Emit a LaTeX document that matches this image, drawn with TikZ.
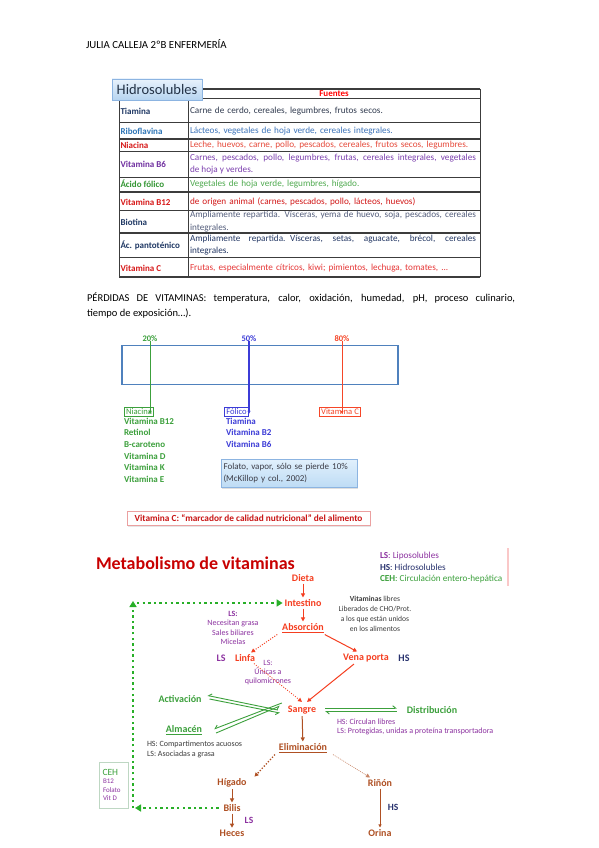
\documentclass[tikz,border=0pt]{standalone}
\usepackage{fontspec}
\setmainfont{Carlito}
\usetikzlibrary{arrows.meta,shadows}
\definecolor{tnavy}{RGB}{31,56,100}
\definecolor{tblue}{RGB}{46,117,182}
\definecolor{tred}{RGB}{215,25,25}
\definecolor{tpurple}{RGB}{112,48,160}
\definecolor{tgreen}{RGB}{51,150,51}
\definecolor{s1}{RGB}{50,60,80}
\definecolor{s2}{RGB}{60,115,185}
\definecolor{s3}{RGB}{230,75,60}
\definecolor{s4}{RGB}{125,65,175}
\definecolor{s5}{RGB}{80,170,80}
\definecolor{s6}{RGB}{210,25,25}
\definecolor{s7}{RGB}{85,95,125}
\definecolor{s8}{RGB}{35,55,100}
\definecolor{s9}{RGB}{230,55,55}
\definecolor{tline}{RGB}{60,60,60}
\definecolor{tabtop}{RGB}{232,242,252}
\definecolor{tabbot}{RGB}{182,212,240}
\definecolor{tabborder}{RGB}{140,180,225}
\definecolor{tabtext}{RGB}{35,50,70}
\definecolor{boxblue}{RGB}{79,129,189}
\definecolor{pgreen}{RGB}{60,160,60}
\definecolor{pblue}{RGB}{60,60,215}
\definecolor{pred}{RGB}{245,70,40}
\definecolor{notetop}{RGB}{225,240,252}
\definecolor{notebot}{RGB}{190,220,245}
\definecolor{notetext}{RGB}{60,60,70}
\definecolor{pinkborder}{RGB}{235,160,160}
\definecolor{darkred}{RGB}{200,20,20}
\definecolor{morange}{RGB}{245,62,32}
\definecolor{mbrown}{RGB}{175,80,35}
\definecolor{mgreen}{RGB}{60,160,60}
\definecolor{dgreen}{RGB}{40,175,40}
\definecolor{mpurple}{RGB}{140,50,160}
\definecolor{mnavy}{RGB}{40,50,110}
\definecolor{titlered}{RGB}{200,0,0}
\definecolor{mgray}{RGB}{60,60,60}
\definecolor{ceh}{RGB}{190,215,195}
\definecolor{pinkbar}{RGB}{250,200,200}
\tikzset{
  every node/.style={inner sep=0pt,outer sep=0pt},
  vl/.style={font=\fontsize{9}{10}\selectfont\bfseries,anchor=west},
  vs/.style={font=\fontsize{9.2}{12.5}\selectfont,anchor=west,text width=286pt,align=left},
  tl/.style={draw=tline,line width=0.8pt},
  pct/.style={font=\fontsize{8.5}{9}\selectfont\bfseries},
  vbox/.style={draw,line width=1pt,inner xsep=2pt,inner ysep=1.2pt,font=\fontsize{8.6}{9.5}\selectfont},
  vlist/.style={font=\fontsize{9}{11.6}\selectfont\bfseries,anchor=north west,align=left},
  tip/.style={-{Triangle[length=3pt,width=3pt]}},
  mo/.style={font=\fontsize{10}{11}\selectfont\bfseries,text=morange,outer sep=2pt},
  mg/.style={font=\fontsize{10}{11}\selectfont\bfseries,text=mgreen,outer sep=2pt},
  mb/.style={font=\fontsize{10}{11}\selectfont\bfseries,text=mbrown,outer sep=2pt},
  small/.style={font=\fontsize{8}{9.4}\selectfont,align=center},
  oarrow/.style={draw=morange,line width=1pt,-{Triangle[length=4pt,width=4pt]}},
  odot/.style={draw=morange,line width=1pt,dash pattern=on 1pt off 1.5pt,-{Triangle[length=4pt,width=4pt]}},
  barrow/.style={draw=mbrown,line width=1pt,-{Triangle[length=4pt,width=4pt]}},
  bdot/.style={draw=mbrown,line width=1.3pt,dash pattern=on 1.3pt off 1.7pt,-{Triangle[length=4pt,width=4pt]}},
  bthin/.style={draw=mbrown!70,line width=0.6pt,dash pattern=on 1pt off 1pt,-{Triangle[length=4pt,width=4pt]}},
  garrow/.style={draw=mgreen,line width=0.9pt,-{Straight Barb[length=3pt,width=5pt,harpoon,swap]}},
  garrows/.style={draw=mgreen,line width=0.9pt,-{Straight Barb[length=3pt,width=5pt,harpoon]}},
  gdot/.style={draw=dgreen,line width=2.4pt,dash pattern=on 2.4pt off 3.2pt},
  gtip/.style={-{Triangle[length=6pt,width=7pt]}},
}
\begin{document}
\begin{tikzpicture}[x=1pt,y=-1pt]
\useasboundingbox (0,0) rectangle (599,848);
\fill[white] (0,0) rectangle (599,848);

% header
\node[anchor=west,font=\fontsize{10.8}{12}\selectfont,text=black] (hdr) at (86,44) {JULIA CALLEJA 2ºB ENFERMERÍA};

% ===== table =====
\draw[tl] (119,98) -- (119,277);
\draw[tl] (188,89) -- (188,277);
\draw[tl] (480,89) -- (480,277);
\draw[tl,line width=1.2pt] (200,89) -- (480,89);
\draw[tl] (119,98) -- (480,98);
\draw[tl] (119,122) -- (480,122);
\draw[tl,line width=1.1pt] (119,139) -- (480,139);
\draw[tl] (119,151) -- (480,151);
\draw[tl] (119,177) -- (480,177);
\draw[tl,line width=1.1pt] (119,192) -- (480,192);
\draw[tl] (119,210) -- (480,210);
\draw[tl,line width=1.1pt] (119,233) -- (480,233);
\draw[tl] (119,257) -- (480,257);
\draw[tl,line width=1.2pt] (119,277) -- (480,277);
\node[font=\fontsize{9}{10}\selectfont\bfseries,text=red] (fuentes) at (334,93.5) {Fuentes};
\node[draw=tabborder,top color=tabtop,bottom color=tabbot,drop shadow={opacity=0.25,shadow xshift=1pt,shadow yshift=-1.5pt},minimum width=90pt,minimum height=21pt,font=\fontsize{14.5}{16}\selectfont,text=tabtext] (tab) at (157,89.5) {Hidrosolubles};

\node[vl,text=tnavy] (r1) at (120.5,111) {Tiamina};
\node[vl,text=tblue] (r2) at (120.5,131) {Riboflavina};
\node[vl,text=tred] (r3) at (120.5,145) {Niacina};
\node[vl,text=tpurple] (r4) at (120.5,164) {Vitamina B6};
\node[vl,text=tgreen] (r5) at (120.5,184) {Ácido fólico};
\node[vl,text=tred] (r6) at (120.5,202) {Vitamina B12};
\node[vl,text=tnavy] (r7) at (120.5,222) {Biotina};
\node[vl,text=tnavy] (r8) at (120.5,245) {Ác. pantoténico};
\node[vl,text=tred] (r9) at (120.5,268) {Vitamina C};

\node[vs,text=s1] (f1) at (190,111) {Carne de cerdo, cereales, legumbres, frutos secos.};
\node[vs,text=s2] (f2) at (190,131) {Lácteos, vegetales de hoja verde, cereales integrales.};
\node[vs,text=s3] (f3) at (190,145) {Leche, huevos, carne, pollo, pescados, cereales, frutos secos, legumbres.};
\node[vs,text=s4] (f4) at (190,164) {\spaceskip=0pt\makebox[286pt][s]{Carnes, pescados, pollo, legumbres, frutas, cereales integrales, vegetales}\\de hoja y verdes.};
\node[vs,text=s5] (f5) at (190,184) {Vegetales de hoja verde, legumbres, hígado.};
\node[vs,text=s6] (f6) at (190,202) {de origen animal (carnes, pescados, pollo, lácteos, huevos)};
\node[vs,text=s7] (f7) at (190,221.5) {\spaceskip=0pt\makebox[286pt][s]{Ampliamente repartida. Vísceras, yema de huevo, soja, pescados, cereales}\\integrales.};
\node[vs,text=s8] (f8) at (190,245) {\spaceskip=0pt\makebox[286pt][s]{Ampliamente repartida. Vísceras, setas, aguacate, brécol, cereales}\\integrales.};
\node[vs,text=s9] (f9) at (190,268) {Frutas, especialmente cítricos, kiwi; pimientos, lechuga, tomates, ...};

% paragraph
\node[anchor=north west,text width=428pt,align=left,font=\fontsize{10.5}{14.5}\selectfont,text=black] (par) at (87,293) {\spaceskip=0pt\makebox[428pt][s]{PÉRDIDAS DE VITAMINAS: temperatura, calor, oxidación, humedad, pH, proceso culinario,}\\tiempo de exposición…).};

% ===== losses =====
\draw[draw=boxblue,line width=1.8pt] (122,345.5) rectangle (398,384.5);
\node[pct,text=pgreen] (p20) at (150,339) {20\%};
\node[pct,text=pblue] (p50) at (249,339) {50\%};
\node[pct,text=pred] (p80) at (342,339) {80\%};

\node[vbox,draw=pgreen,text=pgreen] (nia) at (139,412) {Niacina};
\node[vbox,draw=pblue,text=pblue,line width=1.3pt] (fol) at (236.5,412) {Fólico};
\node[vbox,draw=pred,text=pred] (vc) at (340,412) {Vitamina C};

\draw[draw=pgreen,line width=0.8pt,tip] ([yshift=1pt]p20.south) -- ([yshift=-6pt]p20.south |- nia.north);
\draw[draw=pblue,line width=1.5pt,tip] ([yshift=1pt]p50.south) -- ([yshift=-6pt]p50.south |- fol.north);
\draw[draw=pred,line width=0.8pt,tip] ([yshift=1pt]p80.south) -- ([yshift=-6pt]p80.south |- vc.north);

\node[vlist,text=pgreen] (glist) at (124,418) {Vitamina B12\\Retinol\\B-caroteno\\Vitamina D\\Vitamina K\\Vitamina E};
\node[vlist,text=pblue] (blist) at (226,418) {Tiamina\\Vitamina B2\\Vitamina B6};

\node[draw=tabborder,top color=notetop,bottom color=notebot,drop shadow={opacity=0.25,shadow xshift=1pt,shadow yshift=-1.5pt},minimum width=136pt,minimum height=28pt,text width=131pt,align=left,font=\fontsize{9}{12}\selectfont,text=notetext] (note) at (289,473) {Folato, vapor, sólo se pierde 10\%\\(McKillop y col., 2002)};

\node[draw=pinkborder,fill=white,drop shadow={opacity=0.2,shadow xshift=1pt,shadow yshift=-1.5pt},minimum width=243pt,minimum height=14pt,font=\fontsize{9.3}{10}\selectfont\bfseries,text=darkred] (vcm) at (248.5,518) {Vitamina C: “marcador de calidad nutricional” del alimento};

% ===== metabolism =====
\node[anchor=west,font=\fontsize{18}{20}\selectfont\bfseries,text=titlered] (title) at (96,563) {Metabolismo de vitaminas};
\draw[pinkbar,line width=1.5pt] (508,548) -- (508,586);
\node[anchor=west,font=\fontsize{9.2}{10}\selectfont,text=mpurple] (leg1) at (380,556) {\textbf{LS}: Liposolubles};
\node[anchor=west,font=\fontsize{9.2}{10}\selectfont,text=mnavy] (leg2) at (380,567.5) {\textbf{HS}: Hidrosolubles};
\node[anchor=west,font=\fontsize{9.2}{10}\selectfont,text=mgreen] (leg3) at (380,579) {\textbf{CEH}: Circulación entero-hepática};

\node[mo] (dieta) at (303,578) {Dieta};
\node[mo] (intes) at (303,603) {Intestino};
\node[mo] (abs) at (303,628) {\underline{Absorción}};
\node[mo] (linfa) at (245,658) {Linfa};
\node[mo] (vena) at (366,658) {Vena porta};
\node[mo] (sangre) at (302,710) {Sangre};
\node[mg] (activ) at (180,699) {Activación};
\node[mg] (almac) at (184,730) {\underline{Almacén}};
\node[mg] (distr) at (432,710) {Distribución};
\node[mb] (elim) at (303,748) {\underline{Eliminación}};
\node[mb] (higado) at (232,783) {Hígado};
\node[mb] (rinon) at (380,783) {Riñón};
\node[mb] (bilis) at (232,808) {Bilis};
\node[mb] (heces) at (232,833) {Heces};
\node[mb] (orina) at (380,833) {Orina};

\node[font=\fontsize{10}{11}\selectfont\bfseries,text=mpurple] (lsl) at (221,658) {LS};
\node[font=\fontsize{10}{11}\selectfont\bfseries,text=mnavy] (hsv) at (404,658) {HS};
\node[font=\fontsize{9.5}{10}\selectfont\bfseries,text=mpurple] (lsh) at (249,820) {LS};
\node[font=\fontsize{9.5}{10}\selectfont\bfseries,text=mnavy] (hso) at (393,807) {HS};

\node[small,font=\fontsize{7.6}{10}\selectfont,text=mgray] (vlib) at (375,614) {\textbf{Vitaminas} libres\\Liberados de CHO/Prot.\\a los que están unidos\\en los alimentos};
\node[small,text=mpurple] (lsabs) at (233,628) {\textbf{LS:}\\Necesitan grasa\\Sales biliares\\Micelas};
\node[small,text=mpurple] (lsq) at (268,672.5) {LS:\\Únicas a\\quilomicrones};
\node[anchor=west,font=\fontsize{8}{9}\selectfont,text=mpurple] (hsc) at (337,722) {HS: Circulan libres};
\node[anchor=west,font=\fontsize{8}{9}\selectfont,text=mpurple] (lsp) at (337,731) {LS: Protegidas, unidas a proteína transportadora};
\node[anchor=west,font=\fontsize{8}{9}\selectfont,text=mgray] (hsa) at (147,744) {HS: Compartimentos acuosos};
\node[anchor=west,font=\fontsize{8}{9}\selectfont,text=mgray] (lsa) at (147,754) {LS: Asociadas a grasa};

% CEH box
\node[draw=ceh,line width=0.8pt,minimum width=29pt,minimum height=46pt] (cehbox) at (113.5,785) {};
\node[anchor=west,font=\fontsize{9.5}{10}\selectfont,text=mgreen] (cehl) at (102.5,772) {CEH};
\node[anchor=north west,align=left,font=\fontsize{7}{8.5}\selectfont,text=mpurple] (cehv) at (103,779) {B12\\Folato\\Vit D};

% arrows
\draw[oarrow] (dieta) -- (intes);
\draw[oarrow] (intes) -- (abs);
\draw[odot] ([xshift=-3pt]abs.south west) -- ([xshift=6pt]linfa.north);
\draw[oarrow,shorten >=1pt] ([xshift=-1pt]abs.south east) -- ([xshift=-8pt]vena.north);
\draw[odot,line width=0.8pt] ([xshift=-3pt]linfa.south east) -- ([yshift=2pt]sangre.north);
\draw[oarrow] ([xshift=-12pt]vena.south) -- ([xshift=5pt,yshift=2pt]sangre.north);

% green exchange arrows
\draw[garrow] ([shift={(6pt,0pt)}]activ.east) -- ([shift={(-6pt,-3pt)}]sangre.west);
\draw[garrow] ([shift={(-8pt,0pt)}]sangre.west) -- ([shift={(4pt,3.5pt)}]activ.east);
\draw[garrow] ([shift={(12pt,-3pt)}]almac.east) -- ([shift={(-6pt,4pt)}]sangre.west);
\draw[garrow] ([shift={(-4pt,7pt)}]sangre.west) -- ([shift={(10pt,1pt)}]almac.east);
\draw[garrows] ([shift={(-8pt,-1.5pt)}]distr.west) -- ([shift={(7pt,-1.5pt)}]sangre.east);
\draw[garrows] ([shift={(7pt,1.8pt)}]sangre.east) -- ([shift={(-8pt,1.8pt)}]distr.west);

\draw[barrow] (sangre) -- (elim);
\draw[bdot] ([xshift=-2pt]elim.south west) -- ([xshift=6pt]higado.north east);
\draw[bthin] ([xshift=4pt]elim.south east) -- ([xshift=-10pt]rinon.north);
\draw[barrow] (higado) -- (bilis);
\draw[barrow] (bilis) -- (heces);
\draw[draw=mbrown,line width=0.7pt,-{Triangle[length=3pt,width=3pt]}] (rinon) -- (orina);

\coordinate (cbl) at (133,808);
\coordinate (ctl) at (133,603);
\draw[gdot,gtip,shorten <=3pt] (bilis.west) -- ([xshift=2pt]cbl);
\draw[gdot,gtip] (cbl) -- ([yshift=2pt]ctl);
\draw[gdot,gtip] ([xshift=4pt]ctl) -- (intes.west);
\end{tikzpicture}
\end{document}
